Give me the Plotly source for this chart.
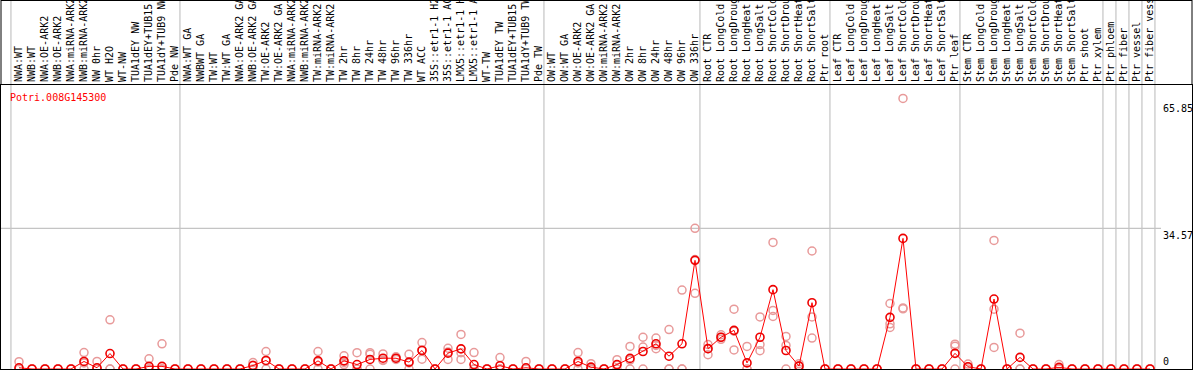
import plotly.graph_objects as go

title_text = "Potri.008G145300"

categories = [
    "NWA:WT", "NWB:WT", "NWA:OE-ARK2", "NWB:OE-ARK2", "NWA:miRNA-ARK2", "NWB:miRNA-ARK2",
    "NW 0hr", "WT H2O", "WT-NW", "TUA1dEY NW", "TUA1dEY+TUB15 NW", "TUA1dY+TUB9 NW", "Pde NW",
    "NWA:WT GA", "NWBWT GA", "TW:WT", "TW:WT GA", "NWA:OE-ARK2 GA", "NWB:OE-ARK2 GA",
    "TW:OE-ARK2", "TW:OE-ARK2 GA", "NWA:miRNA-ARK2", "NWB:miRNA-ARK2", "TW:miRNA-ARK2",
    "TW:miRNA-ARK2", "TW 2hr", "TW 8hr", "TW 24hr", "TW 48hr", "TW 96hr", "TW 336hr",
    "WT ACC", "35S::etr1-1 H2O", "35S::etr1-1 ACC", "LMX5::etr1-1 H2O", "LMX5::etr1-1 ACC",
    "WT-TW", "TUA1dEY TW", "TUA1dEY+TUB15 TW", "TUA1dY+TUB9 TW", "Pde TW",
    "OW:WT", "OW:WT GA", "OW:OE-ARK2", "OW:OE-ARK2 GA", "OW:miRNA-ARK2", "OW:miRNA-ARK2",
    "OW 2hr", "OW 8hr", "OW 24hr", "OW 48hr", "OW 96hr", "OW 336hr",
    "Root CTR", "Root LongCold", "Root LongDrought", "Root LongHeat", "Root LongSalt",
    "Root ShortCold", "Root ShortDrought", "Root ShortHeat", "Root ShortSalt", "Ptr root",
    "Leaf CTR", "Leaf LongCold", "Leaf LongDrought", "Leaf LongHeat", "Leaf LongSalt",
    "Leaf ShortCold", "Leaf ShortDrought", "Leaf ShortHeat", "Leaf ShortSalt", "Ptr leaf",
    "Stem CTR", "Stem LongCold", "Stem LongDrought", "Stem LongHeat", "Stem LongSalt",
    "Stem ShortCold", "Stem ShortDrought", "Stem ShortHeat", "Stem ShortSalt", "Ptr shoot",
    "Ptr xylem", "Ptr phloem", "Ptr fiber", "Ptr vessel", "Ptr fiber vessel",
]

means = [
    0.3, 0, 0, 0, 0, 1.85, 0.3, 3.8, 0, 0, 0.65, 0.65, 0,
    0, 0, 0, 0, 0, 0.85, 2.1, 0, 0, 0, 2.0, 0, 2.0, 1.1, 2.35, 2.65, 2.65, 1.7,
    4.55, 0, 3.9, 4.95, 1.1, 0, 0.8, 0, 0.3, 0,
    0, 0, 1.85, 0.45, 0, 1.1, 2.6, 4.3, 6.2, 3.15, 6.2, 26.7,
    5.0, 7.8, 9.5, 1.5, 7.8, 19.5, 4.55, 0.7, 16.3, 0,
    0, 0, 0, 0, 12.7, 32.1, 0, 0, 0, 3.85,
    0.55, 0, 17.2, 0, 2.85, 0, 0, 0.4, 0, 0,
    0, 0, 0, 0, 0,
]

replicates = [
    [1.8, 0, 0], [0, 0, 0], [0, 0, 0], [0, 0, 0], [0, 0, 0], [4.05, 1.5, 0],
    [1.85, 0, 0], [12.1, 0, 0], [0, 0, 0], [0, 0, 0], [2.5, 0, 0], [6.2, 0, 0], [0, 0, 0],
    [0, 0, 0], [0, 0, 0], [0, 0, 0], [0, 0, 0], [0, 0, 0], [1.6, 0.9, 0],
    [4.3, 2.0, 0], [0, 0, 0], [0, 0, 0], [0, 0, 0], [4.3, 1.7, 0],
    [0, 0, 0], [3.25, 1.6, 1.1], [4.0, 0, 0], [4.0, 3.6, 0], [3.7, 2.2, 2.1], [3.0, 2.6, 2.35],
    [3.6, 1.5, 0], [6.5, 4.7, 2.4], [0, 0, 0], [5.1, 4.2, 2.35], [8.5, 4.0, 2.35],
    [4.05, 0, 0], [0, 0, 0], [2.8, 0, 0], [0, 0, 0], [1.85, 0, 0], [0, 0, 0],
    [0, 0, 0], [0, 0, 0], [4.05, 1.5, 0], [1.3, 0, 0], [0, 0, 0], [2.3, 1.0, 0],
    [5.55, 2.2, 0], [7.8, 5.4, 0], [7.6, 5.8, 5.0], [9.7, 0, 0], [19.4, 0, 0], [34.57, 26.9, 18.6],
    [6.0, 5.0, 3.5], [8.4, 7.8, 7.3], [14.7, 9.3, 4.7], [5.55, 0, 0], [12.8, 6.0, 4.5],
    [31.1, 14.4, 12.9], [8.0, 5.8, 0], [1.3, 0.8, 0], [29.0, 12.8, 7.6], [0, 0, 0],
    [0, 0, 0], [0, 0, 0], [0, 0, 0], [0, 0, 0], [16.1, 11.1, 10.2],
    [66.5, 15.0, 14.8], [0, 0, 0], [0, 0, 0], [0, 0, 0], [6.1, 5.6, 0],
    [1.2, 0.5, 0], [0, 0, 0], [31.6, 14.7, 5.3], [0, 0, 0], [8.8, 0, 0],
    [0, 0, 0], [0, 0, 0], [1.1, 0, 0], [0, 0, 0], [0, 0, 0],
    [0, 0, 0], [0, 0, 0], [0, 0, 0], [0, 0, 0], [0, 0, 0],
]

axis_label_values = [65.85, 34.57, 0]
axis_label_texts = ["65.85", "34.57", "0"]
reference_line_value = 34.57

# separators drawn after these category indices (0-based)
group_ends = [-1, 12, 40, 52, 62, 72, 83, 84, 85, 86, 87]

# ---- layout geometry ----
W, H = 1194, 370
M_L, M_R, M_T, M_B = 1, 2, 85, 1
plot_w = W - M_L - M_R
plot_h = H - M_T - M_B
x0_px, step_px = 19, 13
x_min = (M_L - x0_px) / step_px
x_max = (W - M_R - x0_px) / step_px
y_max = 69.8

def xpaper(v):
    return (v - x_min) / (x_max - x_min)

top_paper = 1 + M_T / plot_h

FONT = "DejaVu Sans Mono"
GRAY = "#c4c4c4"

xs = list(range(len(categories)))
rep_x = [i for i, reps in enumerate(replicates) for _ in reps]
rep_y = [v for reps in replicates for v in reps]

fig = go.Figure()
fig.add_trace(go.Scatter(
    x=rep_x, y=rep_y, mode="markers",
    marker=dict(symbol="circle-open", size=8, color="#e89a9a", line=dict(width=1.5)),
    hoverinfo="skip", showlegend=False,
))
fig.add_trace(go.Scatter(
    x=xs, y=means, mode="lines+markers",
    line=dict(color="#ff0000", width=1),
    marker=dict(symbol="circle-open", size=8, color="#ee0000", line=dict(width=1.6)),
    showlegend=False,
))

shapes = []
for g in group_ends:
    xp = xpaper(g + 0.38)
    shapes.append(dict(type="line", xref="paper", yref="paper", x0=xp, x1=xp,
                       y0=0, y1=top_paper + 0.01, line=dict(color=GRAY, width=1.2), layer="below"))
shapes.append(dict(type="line", xref="paper", yref="y", x0=0, x1=(1161 - M_L) / plot_w,
                   y0=reference_line_value, y1=reference_line_value,
                   line=dict(color=GRAY, width=1.2), layer="below"))
# frame around the label strip
shapes.append(dict(type="line", xref="paper", yref="paper", x0=0, x1=1,
                   y0=1 + (M_T - 0.5) / plot_h, y1=1 + (M_T - 0.5) / plot_h,
                   line=dict(color="black", width=1)))
for xp in (0, 1):
    shapes.append(dict(type="line", xref="paper", yref="paper", x0=xp, x1=xp,
                       y0=1, y1=top_paper + 0.01, line=dict(color="black", width=1)))

annotations = [dict(
    text=title_text, xref="paper", yref="paper", x=(8 - M_L) / plot_w, y=1 - 5 / plot_h,
    xanchor="left", yanchor="top", showarrow=False,
    font=dict(family=FONT, size=10, color="#ff0000"),
)]
for v, t in zip(axis_label_values, axis_label_texts):
    annotations.append(dict(
        text=t, xref="paper", yref="y", x=(1161 - M_L) / plot_w, y=v,
        xanchor="left", yanchor="bottom" if v == 0 else "top", showarrow=False,
        font=dict(family=FONT, size=10, color="black"),
    ))

fig.update_layout(
    width=W, height=H,
    margin=dict(l=M_L, r=M_R, t=M_T, b=M_B, pad=0, autoexpand=False),
    paper_bgcolor="white", plot_bgcolor="white",
    shapes=shapes, annotations=annotations,
    hovermode=False,
    xaxis=dict(
        range=[x_min, x_max], side="top", tickmode="array", tickvals=xs, ticktext=categories,
        tickangle=-90, ticks="", showgrid=False, zeroline=False, automargin=False,
        showline=True, mirror=True, linecolor="black", linewidth=1,
        tickfont=dict(family=FONT, size=10, color="black"),
    ),
    yaxis=dict(
        range=[0, y_max], showticklabels=False, ticks="", showgrid=False, zeroline=False,
        automargin=False,
        showline=True, mirror=True, linecolor="black", linewidth=1,
    ),
)

fig.write_html(
    "out.html",
    config={"displayModeBar": False},
    post_script="document.body.style.margin='0';document.body.style.overflow='hidden';",
)
